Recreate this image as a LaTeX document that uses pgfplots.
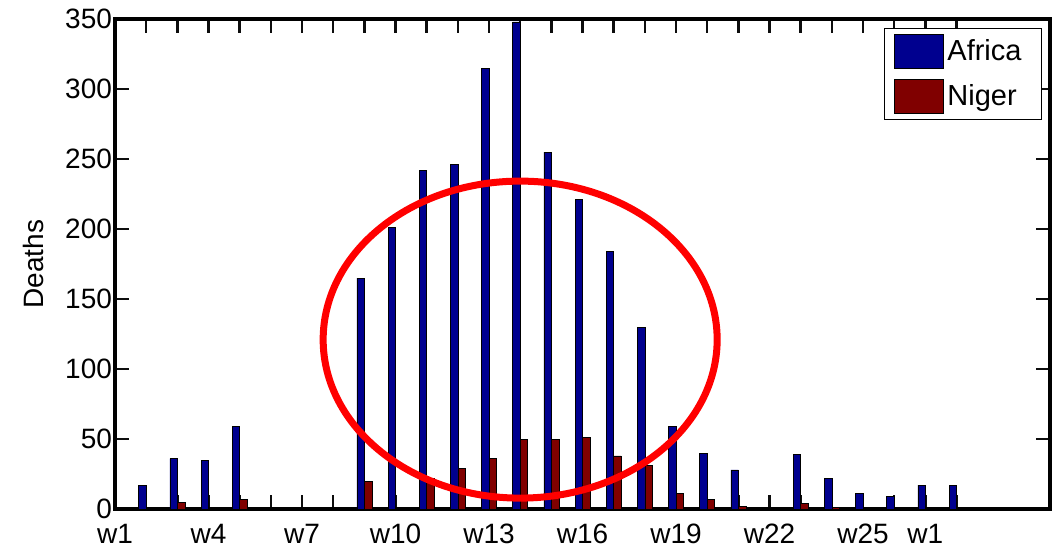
\documentclass[border=0pt]{standalone}
\usepackage{fontspec}
\setmainfont{Liberation Sans}
\usepackage{pgfplots}
\pgfplotsset{compat=1.18}
\definecolor{africa}{rgb}{0,0,0.56}
\definecolor{niger}{rgb}{0.5,0,0}
\definecolor{tickcol}{rgb}{0.05,0.05,0.05}

\begin{document}
\begin{tikzpicture}
% frame of the whole picture (1 px = 0.5pt)
\path[use as bounding box] (-57.5pt,-22pt) rectangle (474.5pt,254.5pt);
\begin{axis}[
    at={(0,0)}, anchor=south west,
    scale only axis,
    width=467.5pt, height=245pt,
    xmin=0, xmax=30, ymin=0, ymax=350,
    xtick={0,...,27},
    xticklabels={w1,,,w4,,,w7,,,w10,,,w13,,,w16,,,w19,,,w22,,,w25,,w1},
    ytick={0,50,...,350},
    tick align=inside,
    xtick pos=both, ytick pos=both,
    major tick length=7pt,
    tick style={tickcol, line width=1.3pt},
    axis line style={black, line width=1.6pt},
    /pgf/number format/assume math mode=true,
    tick label style={font=\fontsize{14}{16}\selectfont},
    xticklabel style={yshift=-4pt},
    yticklabel style={xshift=2pt},
    ylabel={Deaths},
    ylabel style={font=\fontsize{14}{16}\selectfont, at={(axis description cs:-0.0877,0.5)}, anchor=center},
    legend style={at={(0.9914,0.9816)}, anchor=north east, draw=black, line width=0.4pt,
        font=\fontsize{14.5}{16}\selectfont, inner xsep=4.5pt, inner ysep=3pt, row sep=5pt,
        nodes={inner sep=2pt}},
    legend cell align=left,
    legend image code/.code={\draw[#1, draw=black, line width=0.3pt] (0pt,-8.5pt) rectangle (24.5pt,8.5pt);},
]
\addplot[ybar, bar width=0.24, fill=africa, draw=black, line width=0.3pt, bar shift=-0.12] coordinates {
    (1,17) (2,36) (3,35) (4,59) (5,0) (6,0) (7,0) (8,165) (9,201) (10,242)
    (11,246) (12,315) (13,348) (14,255) (15,221) (16,184) (17,130) (18,59)
    (19,40) (20,28) (21,0) (22,39) (23,22) (24,11) (25,9) (26,17) (27,17)
};
\addplot[ybar, bar width=0.24, fill=niger, draw=black, line width=0.3pt, bar shift=0.12] coordinates {
    (1,0) (2,5) (3,0) (4,7) (5,0) (6,0) (7,0) (8,20) (9,0) (10,22)
    (11,29) (12,36) (13,50) (14,50) (15,51) (16,38) (17,31) (18,11)
    (19,7) (20,2) (21,0) (22,4) (23,1) (24,0) (25,0) (26,0) (27,0)
};
\draw[red, line width=3.5pt] (axis cs:13,121) ellipse [x radius=98.5pt, y radius=79.25pt];
\legend{Africa\hspace*{3.5pt}, Niger\hspace*{3.5pt}}
\end{axis}
\end{tikzpicture}
\end{document}
